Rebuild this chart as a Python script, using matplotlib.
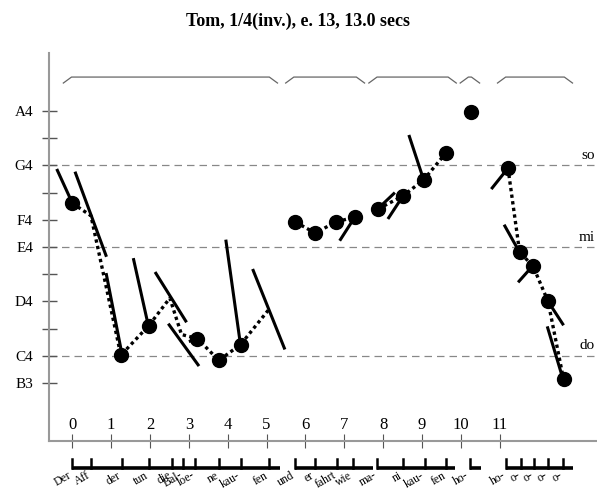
import matplotlib
matplotlib.use("Agg")
import matplotlib.pyplot as plt
from matplotlib.transforms import blended_transform_factory

plt.rcParams['font.family'] = ['Liberation Serif', 'DejaVu Serif']

title = "Tom, 1/4(inv.), e. 13, 13.0 secs"

# pitch axis (midi numbers)
note_ticks = [59, 60, 62, 64, 65, 67, 69]
note_labels = ["B3", "C4", "D4", "E4", "F4", "G4", "A4"]
minor_ticks = [61, 63, 66, 68]
ref_lines = [67, 64, 60]
ref_labels = ["so", "mi", "do"]
sec_ticks = list(range(12))

# per-phrase pitch path (time in s, pitch in midi); voiced=1 gets a dot
path_t = [[0.00, 0.48, 1.25, 1.97, 2.51, 2.81, 3.22, 3.77, 4.33, 5.04],
          [5.74, 6.25, 6.78, 7.27],
          [7.87, 8.51, 9.04, 9.62],
          [10.27],
          [11.21, 11.51, 11.85, 12.24, 12.64]]
path_m = [[65.61, 65.15, 60.02, 61.11, 62.12, 60.78, 60.63, 59.83, 60.41, 61.67],
          [64.92, 64.51, 64.92, 65.10],
          [65.40, 65.88, 66.47, 67.47],
          [68.97],
          [66.90, 63.80, 63.31, 62.00, 59.13]]
voiced = [[1, 0, 1, 1, 0, 0, 1, 1, 1, 0],
          [1, 1, 1, 1],
          [1, 1, 1, 1],
          [1],
          [1, 1, 1, 1, 1]]

# pitch slope segments
seg_t0 = [-0.40, 0.07, 0.87, 1.57, 2.13, 2.47, 3.00, 3.95, 4.64,
          6.88, 7.85, 8.12, 8.66, 10.78, 11.11, 11.47, 12.24, 12.22]
seg_m0 = [66.87, 66.77, 63.04, 63.59, 63.08, 61.18, 60.52, 64.27, 63.19,
          64.23, 65.39, 65.03, 68.12, 66.13, 64.82, 62.70, 62.00, 61.08]
seg_t1 = [0.00, 0.88, 1.27, 1.95, 2.94, 3.26, 3.22, 4.33, 5.47,
          7.27, 8.30, 8.51, 9.04, 11.21, 11.51, 11.85, 12.64, 12.59]
seg_m1 = [65.62, 63.64, 60.12, 61.15, 61.23, 59.62, 60.63, 60.38, 60.23,
          65.10, 66.00, 65.88, 66.47, 66.90, 63.80, 63.31, 61.12, 59.31]

# syllables
syl_start = [[0.00, 0.48, 1.27, 1.97, 2.56, 2.85, 3.17, 3.78, 4.35, 5.06],
             [5.72, 6.24, 6.80, 7.22],
             [7.85, 8.51, 9.07, 9.62],
             [10.22],
             [11.17, 11.55, 11.89, 12.24, 12.62]]
syl_end = [5.34, 7.74, 9.84, 10.52, 12.88]
syl_words = [["Der", "Aff", "der", "tun", "die", "Bal-", "loe-", "ne", "kau-", "fen"],
             ["und", "er", "fahrt", "wie"],
             ["ma-", "ni", "kau-", "fen"],
             ["ho-"],
             ["ho-", "o-", "o-", "o-", "o-"]]

# phrase brackets on top
br_start = [-0.23, 5.49, 7.63, 9.98, 10.94]
br_end = [5.28, 7.52, 9.88, 10.48, 12.87]

fig = plt.figure(figsize=(5.97, 4.92), dpi=100)
ax = fig.add_axes([0.082, 0.104, 0.918, 0.788])
ax.set_xlim(-0.6, 13.5)
ax.set_ylim(56.87, 71.13)

for s in ["top", "right"]:
    ax.spines[s].set_visible(False)
for s in ["left", "bottom"]:
    ax.spines[s].set_color("#999999")
    ax.spines[s].set_linewidth(1.5)

ax.set_yticks(note_ticks)
ax.set_yticklabels(note_labels)
ax.set_yticks(minor_ticks, minor=True)
ax.tick_params(axis="y", which="both", direction="inout", length=10.8,
               width=1, color="#555555", pad=6, labelsize=11)
ax.set_xticks(sec_ticks)
ax.tick_params(axis="x", direction="inout", length=10, width=0.8,
               color="#555555", pad=-22, labelsize=12)

# reference lines
for lv, lb in zip(ref_lines, ref_labels):
    ax.axhline(lv, color="#888888", lw=0.9, ls=(0, (6, 4)), zorder=1)
    ax.text(13.45, lv + 0.12, lb, ha="right", va="bottom", fontsize=11)

# slope segments
for a, b, c, d in zip(seg_t0, seg_m0, seg_t1, seg_m1):
    ax.plot([a, c], [b, d], color="black", lw=2.2, solid_capstyle="butt", zorder=3)

# dotted path + dots
for ts, ms, vs in zip(path_t, path_m, voiced):
    ax.plot(ts, ms, color="black", lw=2.4, ls=(0, (1, 1)), zorder=3)
    vt = [t for t, v in zip(ts, vs) if v]
    vm = [m for m, v in zip(ms, vs) if v]
    ax.plot(vt, vm, "o", color="black", ms=10, zorder=4)

# phrase brackets
d = 0.21
lo, hi = 70.03, 70.25
for a, b in zip(br_start, br_end):
    if b - a < 2 * d:
        xs = [a, (a + b) / 2, b]
        ys = [lo, hi, lo]
    else:
        xs = [a, a + d, b - d, b]
        ys = [lo, hi, hi, lo]
    ax.plot(xs, ys, color="#666666", lw=0.9, zorder=2)

# syllable bars and words below the axis
tr = blended_transform_factory(ax.transData, ax.transAxes)
bar_y, tick_y, word_y = -0.069, -0.047, -0.094
for starts, end, words in zip(syl_start, syl_end, syl_words):
    ax.plot([starts[0], end], [bar_y, bar_y], color="black", lw=2.6,
            transform=tr, clip_on=False, solid_capstyle="butt")
    for s, w in zip(starts, words):
        ax.plot([s, s], [bar_y, tick_y], color="black", lw=1.8,
                transform=tr, clip_on=False)
        ax.text(s, word_y, w, rotation=30, rotation_mode="anchor",
                ha="right", va="baseline", fontsize=8.5, transform=tr)

fig.suptitle(title, fontweight="bold", fontsize=13, y=0.975)

fig.savefig("out.png", dpi=100)
